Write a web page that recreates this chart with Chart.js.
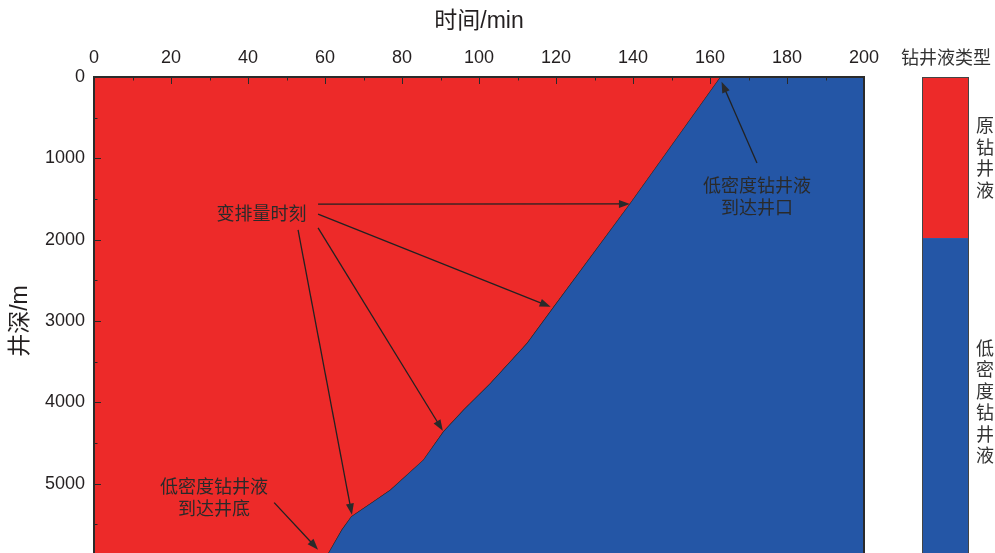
<!DOCTYPE html>
<html>
<head>
<meta charset="utf-8">
<script src="https://cdn.jsdelivr.net/npm/chart.js@4.4.1/dist/chart.umd.min.js"></script>
<style>
  html, body { margin: 0; padding: 0; background: #fff; overflow: hidden; width: 995px; height: 553px; }
  #wrap { width: 995px; height: 600px; }
</style>
</head>
<body>
<div id="wrap"><canvas id="c" width="995" height="600"></canvas></div>
<script>
// front of low-density fluid: time (min) vs depth (m)
const frontTime  = [0, 59.0, 61.3, 64.3, 66.8, 71.5, 76.9, 85.5, 90.7, 95.9, 102.9, 112.4, 119.3, 139.2, 162.6, 200];
const frontDepth = [6000, 6000, 5811, 5565, 5400, 5250, 5074, 4705, 4357, 4091, 3763, 3272, 2826, 1552, 0, 0];

// moments when the pump rate changes
const shiftTime  = [139.2, 118.6, 90.6, 67.0];
const shiftDepth = [1560, 2826, 4349, 5381];

const fluidTypes  = ['原钻井液', '低密度钻井液'];
const fluidColors = ['#ED2A29', '#2456A6'];
const legendTitle = '钻井液类型';

const tickFont = "'Liberation Sans', Arial, 'Noto Sans CJK SC', sans-serif";
const cjkFont = "'Noto Sans CJK SC', sans-serif";
const ink = '#231f20';

function arrow(ctx, x1, y1, x2, y2) {
  const a = Math.atan2(y2 - y1, x2 - x1);
  const L = 11, W = 4;
  ctx.beginPath();
  ctx.moveTo(x1, y1);
  ctx.lineTo(x2 - Math.cos(a) * L * 0.8, y2 - Math.sin(a) * L * 0.8);
  ctx.stroke();
  ctx.beginPath();
  ctx.moveTo(x2, y2);
  ctx.lineTo(x2 - Math.cos(a) * L - Math.sin(a) * W, y2 - Math.sin(a) * L + Math.cos(a) * W);
  ctx.lineTo(x2 - Math.cos(a) * L + Math.sin(a) * W, y2 - Math.sin(a) * L - Math.cos(a) * W);
  ctx.closePath();
  ctx.fill();
}

const decor = {
  id: 'decor',
  afterDatasetsDraw(chart) {
    const { ctx, chartArea: ca, scales: { x, y } } = chart;
    const px = v => x.getPixelForValue(v), py = v => y.getPixelForValue(v);
    ctx.save();

    // inward ticks
    ctx.strokeStyle = '#2a2a2a';
    ctx.lineWidth = 1;
    x.ticks.forEach(t => {
      const len = t.value % 20 === 0 ? 7 : 3.5;
      const X = Math.round(px(t.value)) + 0.5;
      ctx.beginPath(); ctx.moveTo(X, ca.top); ctx.lineTo(X, ca.top + len); ctx.stroke();
    });
    y.ticks.forEach(t => {
      const len = t.value % 1000 === 0 ? 7 : 3.5;
      const Y = Math.round(py(t.value)) + 0.5;
      ctx.beginPath(); ctx.moveTo(ca.left, Y); ctx.lineTo(ca.left + len, Y); ctx.stroke();
    });

    // frame
    ctx.lineWidth = 2;
    ctx.strokeStyle = '#2b2b2b';
    ctx.strokeRect(ca.left, ca.top, ca.right - ca.left, ca.bottom - ca.top);

    // annotations
    ctx.fillStyle = '#2a2a2a';
    ctx.strokeStyle = '#222';
    ctx.lineWidth = 1.3;
    ctx.font = '18px ' + cjkFont;
    ctx.textAlign = 'center';
    ctx.textBaseline = 'middle';
    ctx.fillText('变排量时刻', px(43.5), py(1671));
    arrow(ctx, px(58.2), py(1564), px(shiftTime[0]), py(shiftDepth[0]));
    arrow(ctx, px(58.2), py(1687), px(shiftTime[1]), py(shiftDepth[1]));
    arrow(ctx, px(58.2), py(1855), px(shiftTime[2]), py(shiftDepth[2]));
    arrow(ctx, px(53.0), py(1880), px(shiftTime[3]), py(shiftDepth[3]));

    ctx.fillText('低密度钻井液', px(31.2), py(5025));
    ctx.fillText('到达井底', px(31.2), py(5295));
    arrow(ctx, px(46.8), py(5233), px(58.2), py(5811));

    ctx.fillText('低密度钻井液', px(172.2), py(1327));
    ctx.fillText('到达井口', px(172.2), py(1597));
    arrow(ctx, px(172.2), py(1057), px(163.0), py(58));

    // colour bar legend
    const bx = ca.right + 58, bw = 46;
    const split = ca.top + (ca.bottom - ca.top) * 0.33;
    ctx.fillStyle = fluidColors[0];
    ctx.fillRect(bx, ca.top, bw, split - ca.top);
    ctx.fillStyle = fluidColors[1];
    ctx.fillRect(bx, split, bw, ca.bottom - split);
    ctx.strokeStyle = '#444';
    ctx.lineWidth = 1;
    ctx.strokeRect(bx + 0.5, ca.top + 0.5, bw, ca.bottom - ca.top);

    ctx.fillStyle = '#333';
    ctx.font = '18px ' + cjkFont;
    ctx.fillText(legendTitle, bx + bw / 2 + 1, ca.top - 20);
    const segs = [[ca.top, split], [split, ca.bottom]];
    fluidTypes.forEach((name, i) => {
      const chars = [...name];
      const step = 21.5;
      const mid = (segs[i][0] + segs[i][1]) / 2;
      chars.forEach((ch, k) => {
        ctx.fillText(ch, bx + bw + 17, mid + (k - (chars.length - 1) / 2) * step);
      });
    });
    ctx.restore();
  }
};

const pts = frontTime.map((t, i) => ({ x: t, y: frontDepth[i] }));

new Chart(document.getElementById('c'), {
  type: 'line',
  data: {
    datasets: [
      {
        label: fluidTypes[0],
        data: pts,
        borderWidth: 0,
        pointRadius: 0,
        backgroundColor: fluidColors[0],
        fill: { value: 0 }
      },
      {
        label: fluidTypes[1],
        data: pts,
        borderColor: '#222',
        borderWidth: 1.2,
        pointRadius: 0,
        backgroundColor: fluidColors[1],
        fill: { value: 6000 }
      }
    ]
  },
  options: {
    responsive: false,
    animation: false,
    events: [],
    layout: { padding: { top: 0, left: 0, right: 131, bottom: 35 } },
    plugins: { legend: { display: false }, tooltip: { enabled: false } },
    scales: {
      x: {
        type: 'linear',
        position: 'top',
        min: 0,
        max: 200,
        grid: { display: false, drawTicks: false },
        border: { display: false },
        ticks: {
          stepSize: 10,
          autoSkip: false,
          maxRotation: 0,
          padding: 8,
          color: ink,
          font: { family: tickFont, size: 18 },
          callback: v => (v % 20 === 0 ? v : '')
        },
        title: {
          display: true,
          text: '时间/min',
          color: ink,
          font: { family: tickFont, size: 23 },
          padding: { top: 8, bottom: 0 }
        },
        afterFit: s => { s.height = 77; }
      },
      y: {
        type: 'linear',
        reverse: true,
        min: 0,
        max: 6000,
        grid: { display: false, drawTicks: false },
        border: { display: false },
        ticks: {
          stepSize: 500,
          autoSkip: false,
          padding: 9,
          color: ink,
          font: { family: tickFont, size: 18 },
          callback: v => (v % 1000 === 0 && v < 6000 ? v : '')
        },
        title: {
          display: true,
          text: '井深/m',
          color: ink,
          font: { family: tickFont, size: 23 },
          padding: { top: 7, bottom: 0 }
        },
        afterFit: s => { s.width = 94; }
      }
    }
  },
  plugins: [decor]
});
</script>
</body>
</html>
